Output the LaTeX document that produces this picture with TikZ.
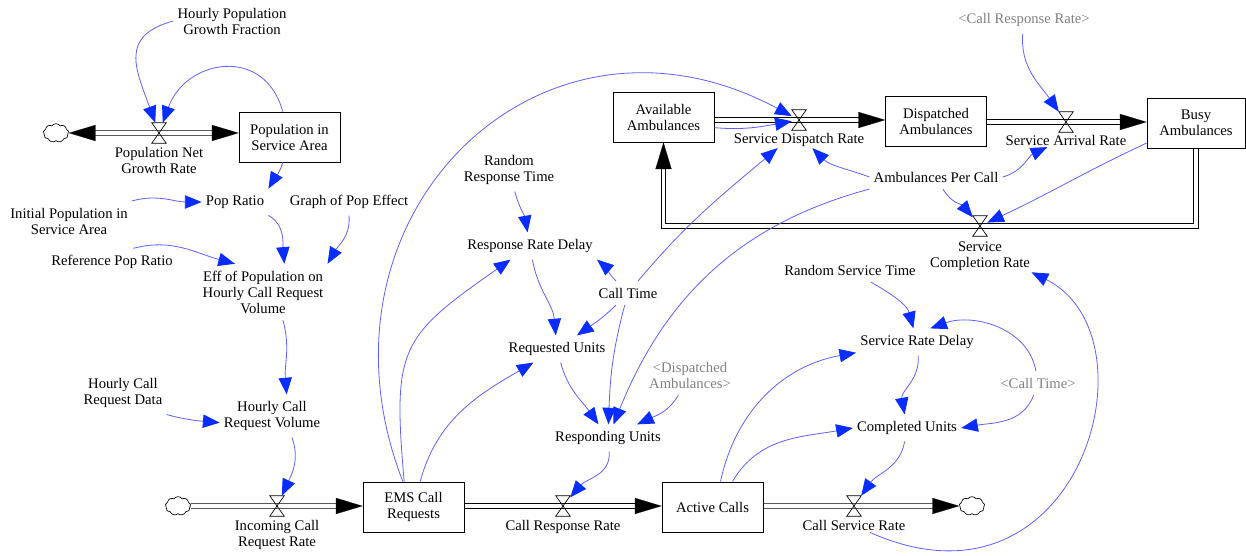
\documentclass[tikz,border=0pt]{standalone}
\usepackage{fontspec}
\setmainfont{Liberation Serif}
\usetikzlibrary{arrows.meta, positioning, shapes.symbols, backgrounds}

\definecolor{linkline}{RGB}{95,95,255}
\definecolor{linkhead}{RGB}{10,45,255}
\definecolor{shadowtext}{RGB}{128,128,128}
\newcommand{\simfont}{\fontsize{11}{12}\selectfont}

\tikzset{
  flowhead/.tip={Triangle[length=20pt, width=12pt, color=black]},
  stock/.style={draw, line width=0.6pt, minimum width=75.75pt, minimum height=37.5pt, align=center, font=\simfont},
  aux/.style={align=center, inner xsep=3pt, inner ysep=5pt, font=\simfont},
  shadow/.style={aux, text=shadowtext},
  valve/.style={minimum width=10.5pt, minimum height=15pt, inner sep=0pt},
  vlabel/.style={align=center, inner sep=1pt, font=\simfont},
  sink/.style={cloud, cloud puffs=9, cloud puff arc=110, aspect=1.4, draw, line width=0.5pt, minimum width=19pt, minimum height=14pt, inner sep=0pt},
  link/.style={draw=linkline, line width=0.6pt, -{Triangle[length=12.5pt, width=10pt, color=linkhead]}},
  flow/.style={draw=white, line width=0.1pt, -flowhead,
    preaction={draw=black, -, double=white, double distance=2.8pt, line width=0.6pt, shorten >=10pt}},
  biflow/.style={draw=white, line width=0.1pt, flowhead-flowhead,
    preaction={draw=black, -, double=white, double distance=2.8pt, line width=0.6pt, shorten >=10pt, shorten <=10pt}}
}

\begin{document}
\begin{tikzpicture}[x=0.75pt, y=0.75pt]
  \useasboundingbox (0,0) rectangle (1246,556);

  % stocks
  \node[stock] (pop) at (289.5,419) {Population in\\Service Area};
  \node[stock] (avail) at (663.5,439) {Available\\Ambulances};
  \node[stock] (disp) at (936,435) {Dispatched\\Ambulances};
  \node[stock, minimum width=73.5pt] (busy) at (1196,433) {Busy\\Ambulances};
  \node[stock] (ems) at (413.5,49) {EMS Call\\Requests};
  \node[stock] (active) at (712.5,49) {Active Calls};

  % valves and sinks
  \node[valve] (pngr) at (159,423) {};
  \node[valve] (icrr) at (277,50) {};
  \node[valve] (crr) at (563,50) {};
  \node[valve] (csr) at (854,50) {};
  \node[valve] (sdr) at (799,436) {};
  \node[valve] (sar) at (1066,434) {};
  \node[valve] (scr) at (980,330) {};
  \foreach \v in {pngr, icrr, crr, csr, sdr, sar, scr}
    \draw[line width=0.5pt] (\v.north west) -- (\v.north east) -- (\v.south west) -- (\v.south east) -- cycle;

  \node[vlabel, below=2pt of pngr] (pngr-l) {Population Net\\Growth Rate};
  \node[vlabel, below=2pt of icrr] (icrr-l) {Incoming Call\\Request Rate};
  \node[vlabel, below=2pt of crr] (crr-l) {Call Response Rate};
  \node[vlabel, below=2pt of csr] (csr-l) {Call Service Rate};
  \node[vlabel, below=1pt of sdr] (sdr-l) {Service Dispatch Rate};
  \node[vlabel, below=1pt of sar] (sar-l) {Service Arrival Rate};
  \node[vlabel, below=3pt of scr] (scr-l) {Service\\Completion Rate};

  \node[sink] (cloudA) at (56,423) {};
  \node[sink] (cloudB) at (178,50) {};
  \node[sink] (cloudC) at (972,50) {};

  % auxiliaries
  \node[aux] (hpgf) at (232,535) {Hourly Population\\Growth Fraction};
  \node[aux] (popratio) at (235,354) {Pop Ratio};
  \node[aux] (graphpop) at (349,354) {Graph of Pop Effect};
  \node[aux] (initpop) at (69,335) {Initial Population in\\Service Area};
  \node[aux] (refpop) at (112,294) {Reference Pop Ratio};
  \node[aux] (effpop) at (263,264) {Eff of Population on\\Hourly Call Request\\Volume};
  \node[aux] (hcrd) at (123,163) {Hourly Call\\Request Data};
  \node[aux] (hcrv) at (272,140) {Hourly Call\\Request Volume};
  \node[aux] (rrt) at (509,386) {Random\\Response Time};
  \node[aux] (rrd) at (530,310) {Response Rate Delay};
  \node[aux] (calltime) at (628,263) {Call Time};
  \node[aux] (requnits) at (557,207) {Requested Units};
  \node[shadow] (dispghost) at (690,181) {<Dispatched\\Ambulances>};
  \node[aux] (respunits) at (608,118) {Responding Units};
  \node[shadow] (crrghost) at (1024,536) {<Call Response Rate>};
  \node[aux] (apc) at (936,379) {Ambulances Per Call};
  \node[aux] (rst) at (850,286) {Random Service Time};
  \node[aux] (srd) at (917,214) {Service Rate Delay};
  \node[shadow] (ctghost) at (1038,173) {<Call Time>};
  \node[aux] (compunits) at (907,128) {Completed Units};

  % pipes
  \begin{scope}[on background layer]
    \draw[biflow] (cloudA) -- (pop.west |- pngr.center);
    \draw[flow] (cloudB) -- (ems.west |- icrr.center);
    \draw[flow] (ems.east |- crr.center) -- (active.west |- crr.center);
    \draw[flow] (active.east |- csr.center) -- (cloudC);
    \draw[flow] (avail.east |- sdr.center) -- (disp.west |- sdr.center);
    \draw[flow] (disp.east |- sar.center) -- (busy.west |- sar.center);
    \draw[flow] (busy.south) |- (scr.center) -| (avail.south);
  \end{scope}

  % links
  \draw[link] (hpgf.west) to[out=195, in=110, looseness=1.4] (pngr);
  \draw[link] (pop) to[out=105, in=70, looseness=1.45] (pngr);
  \draw[link] (pop) to[out=-105, in=60] (popratio.north east);
  \draw[link] (initpop.north east) to[out=15, in=180] (popratio);
  \draw[link] (popratio.south east) to[out=-30, in=95] ([xshift=16pt]effpop.north);
  \draw[link] (graphpop.south) to[out=-85, in=60] (effpop.north east);
  \draw[link] ([xshift=16pt]refpop.north) to[out=15, in=165] ([xshift=-21pt]effpop.north);
  \draw[link] ([xshift=15pt]effpop.south) to[out=-75, in=95] ([xshift=11pt]hcrv.north);
  \draw[link] (hcrd.south east) to[out=-15, in=175] ([yshift=-5pt]hcrv.west);
  \draw[link] ([xshift=15pt]hcrv.south) to[out=-70, in=65] (icrr);

  \draw[link] ([xshift=-8pt]ems.north) .. controls (300,340) and (540,575) .. (sdr);
  \draw[link] ([xshift=-7pt]ems.north) to[out=95, in=215, looseness=1.4] (rrd);
  \draw[link] ([xshift=5pt]ems.north) to[out=75, in=210] (requnits);
  \draw[link] (rrt) to[out=-75, in=100] (rrd);
  \draw[link] (rrd) to[out=-80, in=95] (requnits);
  \draw[link] (calltime) to[out=135, in=-40] (rrd.south east);
  \draw[link] (calltime) to[out=-135, in=35] ([xshift=15pt]requnits.north);
  \draw[link] (calltime) to[out=50, in=220] ([xshift=-16pt]sdr-l.south);
  \draw[link] (calltime) to[out=-105, in=88] (respunits);
  \draw[link] (requnits) to[out=-75, in=125] (respunits);
  \draw[link] (apc.south west) to[out=195, in=68] (respunits);
  \draw[link] (dispghost) to[out=-120, in=25] (respunits);
  \draw[link] (respunits) to[out=-85, in=50] (crr);

  \draw[link] ([yshift=-8pt]avail.east) to[out=-5, in=190] (sdr);
  \draw[link] (apc.west) to[out=160, in=-45] ([xshift=10pt]sdr-l.south);
  \draw[link] (apc.east) to[out=15, in=205] ([xshift=-14pt]sar-l.south);
  \draw[link] (apc) to[out=-60, in=130] (scr);
  \draw[link] ([yshift=4pt]busy.south west) to[out=205, in=25] (scr);
  \draw[link] (crrghost) to[out=-95, in=125] (sar);

  \draw[link] (rst) to[out=-30, in=105] (srd);
  \draw[link] (srd) to[out=-85, in=100] (compunits);
  \draw[link] (ctghost) to[out=100, in=20] ([xshift=10pt]srd.north);
  \draw[link] (ctghost) to[out=-110, in=10] (compunits.east);
  \draw[link] ([xshift=6pt]active.north) to[out=78, in=190] (srd);
  \draw[link] ([xshift=15pt]active.north) to[out=60, in=190] (compunits.west);
  \draw[link] (compunits) to[out=-100, in=55] (csr);
  \draw[link] ([xshift=12pt]csr-l.south) .. controls (1080,-70) and (1160,220) .. (scr-l.south east);
\end{tikzpicture}
\end{document}
